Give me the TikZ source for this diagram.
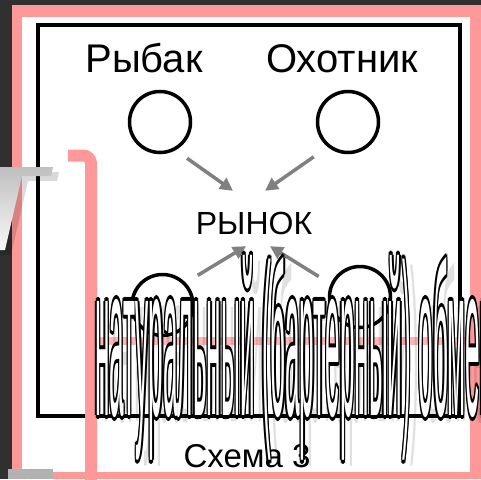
\documentclass[tikz,border=0pt]{standalone}
\usepackage{fontspec}
\setmainfont{Liberation Sans}
\usetikzlibrary{arrows.meta,calc}
\definecolor{slide_pink}{RGB}{255,153,153}
\definecolor{slide_dark}{RGB}{48,48,48}
\definecolor{arrow_grey}{RGB}{128,128,128}
\tikzstyle{party}=[circle,draw=black,line width=3.5pt,
  minimum size=61pt,inner sep=0pt]
\tikzstyle{who}=[font=\fontsize{40}{40}\selectfont,anchor=base,inner sep=0pt]
\tikzstyle{mkt}=[font=\fontsize{32}{32}\selectfont,inner sep=0pt,
  text height=32pt,text depth=0pt,minimum height=55pt,minimum width=120pt]
\tikzstyle{flow}=[draw=arrow_grey,line width=3.5pt,
  -{Triangle[length=13pt,width=13pt]}]
\tikzstyle{big}=[anchor=base west,inner sep=0pt]
\tikzstyle{none}=[]
\newcommand{\bigtext}{\scalebox{1}[8.24]{\fontsize{26.2}{26.2}\selectfont натуральный (бартерный) обмен}}

\begin{document}
\begin{tikzpicture}[x=1pt,y=-1pt]
		\useasboundingbox (0,0) rectangle (481,479);
		\clip (0,0) rectangle (481,479);
		% slide
		\fill[slide_dark] (0,0) rectangle (481,479);
		\fill[slide_pink] (12,5) rectangle (481,479);
		\fill[white] (22,17) rectangle (470,472);
		% scheme
		\draw[line width=4pt] (38,25) rectangle (460,415.5);
		\node [style=who] (0) at (144,72) {Рыбак};
		\node [style=who] (1) at (342,72) {Охотник};
		\node [style=party] (2) at (160,122) {};
		\node [style=party] (3) at (348,122) {};
		\node [style=mkt] (4) at (254,218.5) {РЫНОК};
		\node [style=party] (5) at (162.5,305) {};
		\node [style=party] (6) at (360,297) {};
		\node [font=\fontsize{33}{33}\selectfont,anchor=base,inner sep=0pt] (7) at (247,467) {Схема 3};
		\draw [style=flow,shorten <=14pt] (2.-61) to ([xshift=-21]4.north);
		\draw [style=flow,shorten <=17pt] (3.-129) to ([xshift=11]4.north);
		\draw [style=flow,shorten <=14pt] (5.44) to ([xshift=-8]4.south);
		\draw [style=flow,shorten <=14pt] (6.156) to ([xshift=16]4.south);
		% overlay
		\draw[slide_pink,opacity=.7,line width=8pt] (100,341) -- (481,341);
		\draw[slide_pink,line width=12pt,rounded corners=8pt] (68,155.5) -- (91,155.5) -- (91,485);
		\fill[black,opacity=.15] (-4,172) -- (59,172) -- (57,181) -- (28,181) -- (11,255) -- (-6,255) -- cycle;
		\shade[top color=gray!50,bottom color=gray!5] (-10,167) -- (53,167) -- (51,176) -- (22,176) -- (5,250) -- (-12,250) -- cycle;
		\fill[gray!60] (8,469) rectangle (53,479);
		\node [style=big,text=black,opacity=.12] (8) at (103,421) {\bigtext};
		\foreach \dx/\dy [count=\i] in {-1.3/0,1.3/0,0/-4,0/4,-1/-3,1/-3,-1/3,1/3}
			\node [style=big,text=black] (rim\i) at (95+\dx,415+\dy) {\bigtext};
		\node [style=big,text=white] (9) at (95,415) {\bigtext};
\end{tikzpicture}
\end{document}
